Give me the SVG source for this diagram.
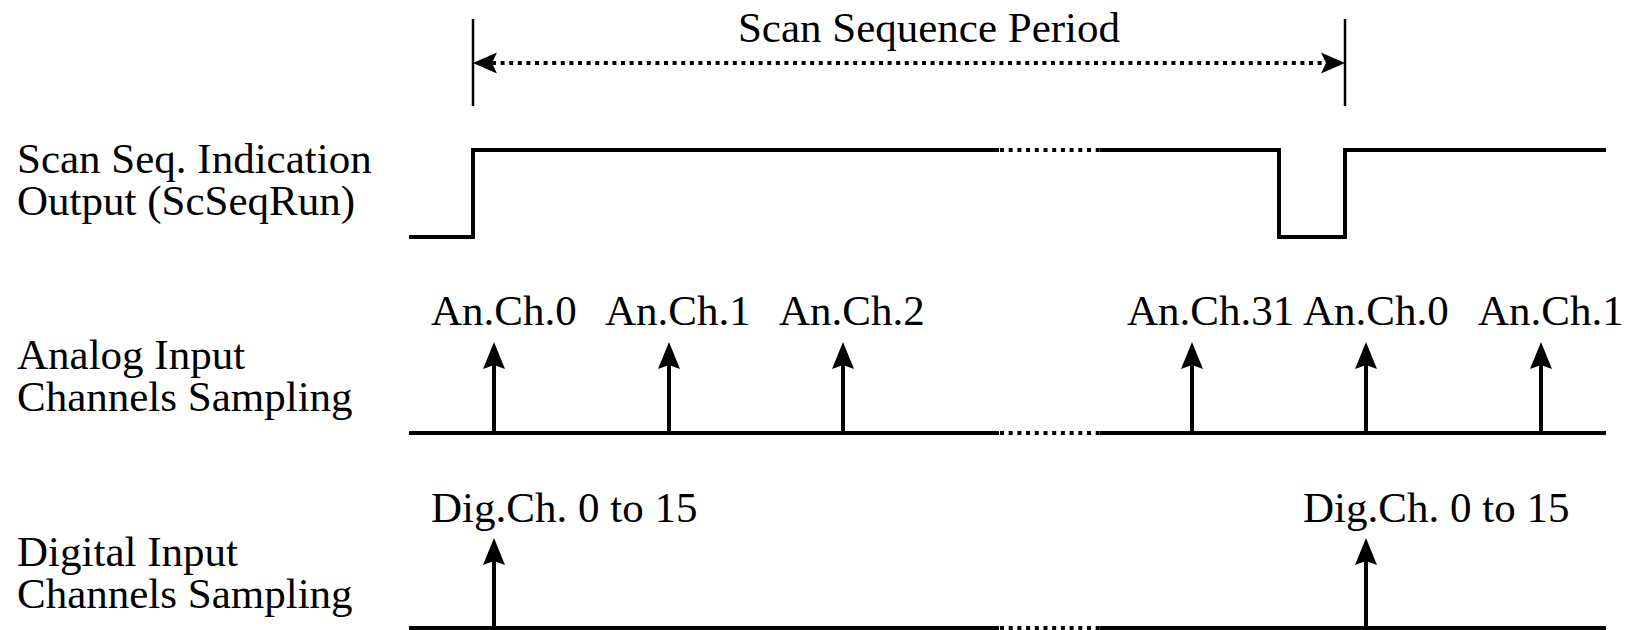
<svg xmlns="http://www.w3.org/2000/svg" width="1628" height="630" viewBox="0 0 1628 630">
  <style>
    text { font-family: "Liberation Serif", "Times New Roman", serif; font-size: 43px; fill: #000; }
    .wave { fill: none; stroke: #000; stroke-width: 4; stroke-linejoin: miter; stroke-linecap: butt; }
    .gap { fill: none; stroke: #000; stroke-width: 4; stroke-dasharray: 4 4.7; }
    .tick { fill: none; stroke: #000; stroke-width: 2.5; }
    .sample { fill: none; stroke: #000; stroke-width: 4; marker-end: url(#head); }
    .span { fill: none; stroke: #000; stroke-width: 4; stroke-dasharray: 4 4.6; marker-start: url(#head-s); marker-end: url(#head-s); }
  </style>
  <defs>
    <!-- sampling arrowhead: tip at (0,0), notch at (-23,0) -->
    <marker id="head" viewBox="-29 -12 30 24" refX="-23" refY="0" markerWidth="30" markerHeight="24" markerUnits="userSpaceOnUse" orient="auto">
      <path d="M0,0 L-27,-11 L-23,0 L-27,11 Z" fill="#000"/>
    </marker>
    <!-- period arrowhead -->
    <marker id="head-s" viewBox="-26 -12 27 24" refX="-19" refY="0" markerWidth="27" markerHeight="24" markerUnits="userSpaceOnUse" orient="auto-start-reverse">
      <path d="M0,0 L-24,-10.5 L-19,0 L-24,10.5 Z" fill="#000"/>
    </marker>
  </defs>

  <!-- scan sequence period -->
  <g id="period">
    <line class="tick" x1="473" y1="19" x2="473" y2="106"/>
    <line class="tick" x1="1345" y1="19" x2="1345" y2="106"/>
    <text x="929" y="42" text-anchor="middle">Scan Sequence Period</text>
  </g>

  <!-- row labels -->
  <g id="label-scseqrun">
    <text x="17" y="173">Scan Seq. Indication</text>
    <text x="17" y="215">Output (ScSeqRun)</text>
  </g>
  <g id="label-analog">
    <text x="17" y="369">Analog Input</text>
    <text x="17" y="411">Channels Sampling</text>
  </g>
  <g id="label-digital">
    <text x="17" y="566">Digital Input</text>
    <text x="17" y="608">Channels Sampling</text>
  </g>

  <!-- ScSeqRun waveform -->
  <g id="wave-scseqrun">
    <path class="wave" d="M409,237 H473 V150 H999"/>
    <line class="gap" x1="1000" y1="150" x2="1100" y2="150"/>
    <path class="wave" d="M1100,150 H1279 V237 H1345 V150 H1606"/>
  </g>

  <!-- analog sampling time axis -->
  <g id="axis-analog">
    <line class="wave" x1="409" y1="433" x2="999" y2="433"/>
    <line class="gap" x1="1000" y1="433" x2="1100" y2="433"/>
    <line class="wave" x1="1100" y1="433" x2="1606" y2="433"/>
    <text x="431" y="325">An.Ch.0</text>
    <text x="605" y="325">An.Ch.1</text>
    <text x="779" y="325">An.Ch.2</text>
    <text x="1127" y="325">An.Ch.31</text>
    <text x="1303" y="325">An.Ch.0</text>
    <text x="1478" y="325">An.Ch.1</text>
  </g>

  <!-- digital sampling time axis -->
  <g id="axis-digital">
    <line class="wave" x1="409" y1="628" x2="999" y2="628"/>
    <line class="gap" x1="1000" y1="628" x2="1100" y2="628"/>
    <line class="wave" x1="1100" y1="628" x2="1606" y2="628"/>
    <text x="431" y="522">Dig.Ch. 0 to 15</text>
    <text x="1303" y="522">Dig.Ch. 0 to 15</text>
  </g>

  <!-- arrows -->
  <g id="connectors">
    <line class="span" x1="492" y1="63" x2="1326" y2="63"/>
    <line class="sample" x1="494" y1="433" x2="494" y2="365"/>
    <line class="sample" x1="669" y1="433" x2="669" y2="365"/>
    <line class="sample" x1="843" y1="433" x2="843" y2="365"/>
    <line class="sample" x1="1192" y1="433" x2="1192" y2="365"/>
    <line class="sample" x1="1366" y1="433" x2="1366" y2="365"/>
    <line class="sample" x1="1541" y1="433" x2="1541" y2="365"/>
    <line class="sample" x1="494" y1="628" x2="494" y2="561"/>
    <line class="sample" x1="1366" y1="628" x2="1366" y2="561"/>
  </g>
</svg>
